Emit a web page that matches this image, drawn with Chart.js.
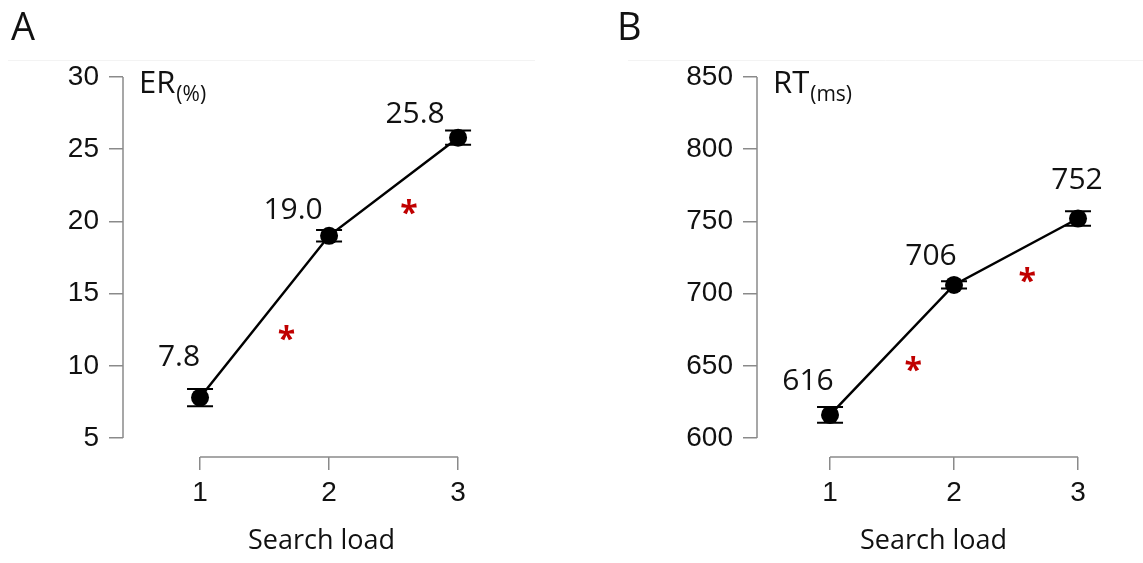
<!DOCTYPE html>
<html>
<head>
<meta charset="utf-8">
<script src="https://cdn.jsdelivr.net/npm/chart.js@4.4.1/dist/chart.umd.min.js"></script>
<style>
  html, body { margin: 0; padding: 0; background: #fff; }
  #wrap { position: relative; width: 1143px; height: 563px; overflow: hidden; }
  canvas { position: absolute; top: 0; }
  #chartA { left: 0; }
  #chartB { left: 570px; }
</style>
</head>
<body>
<div id="wrap">
  <canvas id="chartA" width="570" height="563"></canvas>
  <canvas id="chartB" width="573" height="563"></canvas>
</div>
<script>
const LOADS = [1, 2, 3];

const ER_MEAN = [7.8, 19.0, 25.8];
const ER_SE = [0.6, 0.4, 0.5];
const ER_TEXT = ['7.8', '19.0', '25.8'];
const ER_TICKS = [5, 10, 15, 20, 25, 30];
const ER_SIG_X = [1.67, 2.62];
const ER_SIG_Y = [12.3, 21.0];

const RT_MEAN = [616, 706, 752];
const RT_SE = [5.5, 2.5, 5];
const RT_TEXT = ['616', '706', '752'];
const RT_TICKS = [600, 650, 700, 750, 800, 850];
const RT_SIG_X = [1.67, 2.59];
const RT_SIG_Y = [651, 713];

const AXIS_GREY = '#8a8a8a';
const TEXT_FONT = '"Open Sans", "Noto Sans", sans-serif';
const TICK_FONT = '"Liberation Sans", Arial, sans-serif';

// draws R-style axes, error bars, value labels, asterisks and titles
const panelExtras = {
  id: 'panelExtras',
  beforeDatasetsDraw(chart, args, opts) {
    const { ctx, chartArea } = chart;
    const xs = chart.scales.x;
    const ys = chart.scales.y;

    ctx.save();
    ctx.strokeStyle = AXIS_GREY;
    ctx.lineWidth = 1.5;
    ctx.beginPath();
    ctx.moveTo(chartArea.left, ys.getPixelForValue(opts.yTicks[0]));
    ctx.lineTo(chartArea.left, ys.getPixelForValue(opts.yTicks[opts.yTicks.length - 1]));
    ctx.moveTo(xs.getPixelForValue(LOADS[0]), chartArea.bottom);
    ctx.lineTo(xs.getPixelForValue(LOADS[LOADS.length - 1]), chartArea.bottom);
    ctx.stroke();

    // faint frame line at the top
    ctx.strokeStyle = '#f3f3f3';
    ctx.lineWidth = 1;
    ctx.beginPath();
    ctx.moveTo(opts.frame[0], 60.5);
    ctx.lineTo(opts.frame[1], 60.5);
    ctx.stroke();

    // error bars
    ctx.strokeStyle = '#000';
    ctx.lineWidth = 2;
    opts.mean.forEach((m, i) => {
      const x = xs.getPixelForValue(LOADS[i]);
      const yHi = ys.getPixelForValue(m + opts.se[i]);
      const yLo = ys.getPixelForValue(m - opts.se[i]);
      ctx.beginPath();
      ctx.moveTo(x, yHi);
      ctx.lineTo(x, yLo);
      ctx.moveTo(x - 13, yHi);
      ctx.lineTo(x + 13, yHi);
      ctx.moveTo(x - 13, yLo);
      ctx.lineTo(x + 13, yLo);
      ctx.stroke();
    });
    ctx.restore();
  },
  afterDatasetsDraw(chart, args, opts) {
    const { ctx, chartArea } = chart;
    const xs = chart.scales.x;
    const ys = chart.scales.y;

    ctx.save();
    ctx.fillStyle = '#111';
    ctx.textAlign = 'center';
    ctx.textBaseline = 'middle';
    ctx.font = `30px ${TEXT_FONT}`;
    opts.text.forEach((t, i) => {
      const x = xs.getPixelForValue(LOADS[i]) + opts.labelOffsets[i][0];
      const y = ys.getPixelForValue(opts.mean[i]) + opts.labelOffsets[i][1];
      ctx.fillText(t, x, y);
    });

    // significance asterisks, centred on their point
    ctx.fillStyle = '#c00000';
    ctx.font = `bold 32px ${TEXT_FONT}`;
    ctx.textBaseline = 'alphabetic';
    const m = ctx.measureText('*');
    const h = m.actualBoundingBoxAscent - m.actualBoundingBoxDescent;
    opts.sigX.forEach((sx, i) => {
      ctx.fillText('*', xs.getPixelForValue(sx), ys.getPixelForValue(opts.sigY[i]) + h / 2);
    });

    // y title with subscript unit
    ctx.fillStyle = '#111';
    ctx.textAlign = 'left';
    ctx.font = `31px ${TEXT_FONT}`;
    const tx = chartArea.left + 16;
    ctx.fillText(opts.title, tx, 93);
    const w = ctx.measureText(opts.title).width;
    ctx.font = `21px ${TEXT_FONT}`;
    ctx.fillText(opts.unit, tx + w + 1, 101);

    // panel letter
    ctx.font = `38px ${TEXT_FONT}`;
    ctx.fillText(opts.letter, opts.letterX, 40);
    ctx.restore();
  }
};

Chart.register(panelExtras);

function makePanel(id, p) {
  const ctx = document.getElementById(id).getContext('2d');
  return new Chart(ctx, {
    type: 'line',
    data: {
      datasets: [{
        data: LOADS.map((x, i) => ({ x, y: p.mean[i] })),
        borderColor: '#000',
        borderWidth: 2.5,
        backgroundColor: '#000',
        pointRadius: 9,
        pointBackgroundColor: '#000',
        pointBorderWidth: 0,
        tension: 0
      }]
    },
    options: {
      responsive: false,
      animation: false,
      layout: { padding: { left: 0, right: p.padRight, top: 70, bottom: 0 } },
      plugins: {
        legend: { display: false },
        tooltip: { enabled: false },
        panelExtras: p
      },
      scales: {
        x: {
          type: 'linear',
          min: p.xMin,
          max: p.xMax,
          afterBuildTicks: axis => { axis.ticks = LOADS.map(v => ({ value: v })); },
          afterFit: axis => { axis.height = 106; },
          grid: { drawOnChartArea: false, drawTicks: true, tickLength: 13, color: AXIS_GREY, lineWidth: 1.5 },
          border: { display: false },
          ticks: {
            color: '#111',
            padding: 6,
            font: { family: TICK_FONT, size: 28 },
            callback: v => String(v)
          },
          title: {
            display: true,
            text: 'Search load',
            color: '#111',
            font: { family: TEXT_FONT, size: 27 },
            padding: { top: 0, bottom: 5 }
          }
        },
        y: {
          type: 'linear',
          min: p.yMin,
          max: p.yMax,
          afterBuildTicks: axis => { axis.ticks = p.yTicks.map(v => ({ value: v })); },
          afterFit: axis => { axis.width = p.yWidth; },
          grid: { drawOnChartArea: false, drawTicks: true, tickLength: 14, color: AXIS_GREY, lineWidth: 1.5 },
          border: { display: false },
          ticks: {
            color: '#111',
            padding: 10,
            font: { family: TICK_FONT, size: 28 },
            callback: v => String(v)
          }
        }
      }
    }
  });
}

window.addEventListener('DOMContentLoaded', () => {
  makePanel('chartA', {
    mean: ER_MEAN, se: ER_SE, text: ER_TEXT, yTicks: ER_TICKS,
    sigX: ER_SIG_X, sigY: ER_SIG_Y,
    labelOffsets: [[-21, -40], [-36, -25], [-43, -23]],
    title: 'ER', unit: '(%)', letter: 'A', letterX: 11,
    frame: [8, 535],
    yWidth: 123, padRight: 50,
    xMin: 0.403, xMax: 3.48,
    yMin: 3.684, yMax: 30.485
  });
  makePanel('chartB', {
    mean: RT_MEAN, se: RT_SE, text: RT_TEXT, yTicks: RT_TICKS,
    sigX: RT_SIG_X, sigY: RT_SIG_Y,
    labelOffsets: [[-22, -33], [-23, -28], [-1, -38]],
    title: 'RT', unit: '(ms)', letter: 'B', letterX: 47,
    frame: [58, 573],
    yWidth: 187, padRight: 33,
    xMin: 0.411, xMax: 3.258,
    yMin: 586.84, yMax: 854.85
  });
});
</script>
</body>
</html>
